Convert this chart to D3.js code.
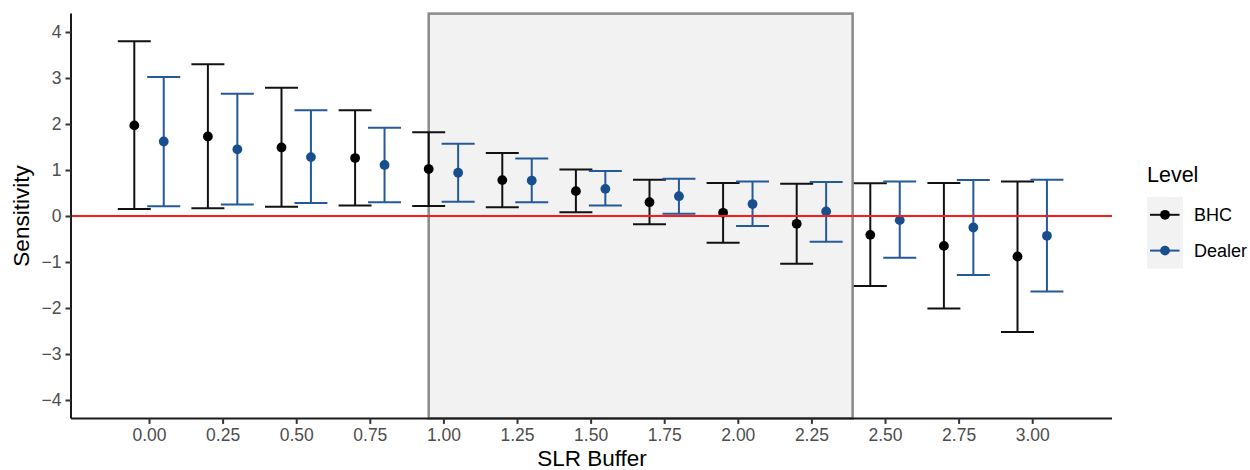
<!DOCTYPE html>
<html>
<head>
<meta charset="utf-8">
<script src="https://cdn.jsdelivr.net/npm/d3@7"></script>
<style>
  html, body { margin: 0; padding: 0; background: #fff; }
  svg { display: block; font-family: "Liberation Sans", Arial, sans-serif; }
</style>
</head>
<body>
<svg id="chart" width="1250" height="470"></svg>
<script>
// ---- data ----
const buffers = [0.00, 0.25, 0.50, 0.75, 1.00, 1.25, 1.50, 1.75, 2.00, 2.25, 2.50, 2.75, 3.00];
const levels = ["BHC", "Dealer"];
const bhcEst   = [1.97, 1.73, 1.49, 1.26, 1.02, 0.78, 0.54, 0.30, 0.07, -0.17, -0.41, -0.65, -0.88];
const bhcLow   = [0.15, 0.17, 0.20, 0.23, 0.22, 0.19, 0.08, -0.18, -0.58, -1.04, -1.52, -2.01, -2.52];
const bhcHigh  = [3.80, 3.30, 2.79, 2.30, 1.82, 1.37, 1.01, 0.79, 0.72, 0.70, 0.71, 0.72, 0.75];
const dlrEst   = [1.62, 1.45, 1.28, 1.11, 0.94, 0.77, 0.59, 0.43, 0.26, 0.10, -0.09, -0.25, -0.43];
const dlrLow   = [0.21, 0.25, 0.28, 0.30, 0.31, 0.30, 0.23, 0.05, -0.22, -0.56, -0.91, -1.28, -1.64];
const dlrHigh  = [3.02, 2.66, 2.30, 1.92, 1.57, 1.25, 0.98, 0.81, 0.75, 0.74, 0.75, 0.78, 0.79];
const yTicks = [-4, -3, -2, -1, 0, 1, 2, 3, 4];
const shadeRange = [0.95, 2.39];
const dodge = [-0.05, 0.05];
const capWidth = 0.112;

const pointColors = { BHC: "#000000", Dealer: "#174f8c" };
const lineColors = { BHC: "#111111", Dealer: "#24599a" };

const rows = [];
buffers.forEach((b, i) => {
  rows.push({ level: "BHC", x: b + dodge[0], est: bhcEst[i], lo: bhcLow[i], hi: bhcHigh[i] });
  rows.push({ level: "Dealer", x: b + dodge[1], est: dlrEst[i], lo: dlrLow[i], hi: dlrHigh[i] });
});

// ---- layout ----
const svg = d3.select("#chart");
const pLeft = 71, pRight = 1112, pTop = 13.6, pBottom = 418.4;
const x = d3.scaleLinear().domain([-0.265, 3.271]).range([pLeft, pRight]);
const y = d3.scaleLinear().domain([-4.4, 4.4]).range([pBottom, pTop]);

// shaded region
svg.append("rect")
  .attr("x", x(shadeRange[0])).attr("y", pTop)
  .attr("width", x(shadeRange[1]) - x(shadeRange[0]))
  .attr("height", pBottom - pTop)
  .attr("fill", "#f2f2f2")
  .attr("stroke", "#8a8a8a")
  .attr("stroke-width", 2.5);

// error bars
const g = svg.append("g");
rows.forEach(d => {
  const lineC = lineColors[d.level];
  g.append("line").attr("x1", x(d.x)).attr("x2", x(d.x))
    .attr("y1", y(d.lo)).attr("y2", y(d.hi))
    .attr("stroke", lineC).attr("stroke-width", 2);
  [d.lo, d.hi].forEach(v => {
    g.append("line")
      .attr("x1", x(d.x - capWidth / 2)).attr("x2", x(d.x + capWidth / 2))
      .attr("y1", y(v)).attr("y2", y(v))
      .attr("stroke", lineC).attr("stroke-width", 2);
  });
  g.append("circle").attr("cx", x(d.x)).attr("cy", y(d.est)).attr("r", 4.9).attr("fill", pointColors[d.level]);
});

// zero line
svg.append("line")
  .attr("x1", pLeft).attr("x2", pRight)
  .attr("y1", y(0)).attr("y2", y(0))
  .attr("stroke", "#ff1a1a").attr("stroke-width", 2);

// axes
const xAxis = d3.axisBottom(x).tickValues(buffers).tickFormat(d3.format(".2f")).tickSize(5.5).tickPadding(5);
const yAxis = d3.axisLeft(y).tickValues(yTicks).tickFormat(d => d < 0 ? "\u2212" + Math.abs(d) : String(d)).tickSize(5.5).tickPadding(4);

const gx = svg.append("g").attr("transform", `translate(0,${pBottom})`).call(xAxis);
const gy = svg.append("g").attr("transform", `translate(${pLeft},0)`).call(yAxis);
[gx, gy].forEach(a => {
  a.select(".domain").attr("stroke", "#1a1a1a").attr("stroke-width", 2);
  a.selectAll(".tick line").attr("stroke", "#333").attr("stroke-width", 2);
  a.selectAll(".tick text").attr("fill", "#4d4d4d").style("font-size", "17.5px")
    .style("font-family", "'Liberation Sans', Arial, sans-serif");
});
gx.select(".domain").attr("d", `M${pLeft},0H${pRight}`);
gy.select(".domain").attr("d", `M0,${pTop}V${pBottom}`);

// axis titles
svg.append("text").attr("x", 592).attr("y", 466)
  .attr("text-anchor", "middle").style("font-size", "22.5px").attr("fill", "#000")
  .text("SLR Buffer");
svg.append("text").attr("transform", `translate(29,${y(0)}) rotate(-90)`)
  .attr("text-anchor", "middle").style("font-size", "22.5px").attr("fill", "#000")
  .text("Sensitivity");

// legend
const lg = svg.append("g");
lg.append("text").attr("x", 1147).attr("y", 182).style("font-size", "21.5px").attr("fill", "#000").text("Level");
lg.append("rect").attr("x", 1147).attr("y", 197).attr("width", 36).attr("height", 71.5).attr("fill", "#f2f2f2");
levels.forEach((lv, i) => {
  const cy = 214.8 + i * 35.8;
  lg.append("line").attr("x1", 1150).attr("x2", 1179.5).attr("y1", cy).attr("y2", cy)
    .attr("stroke", lineColors[lv]).attr("stroke-width", 2);
  lg.append("circle").attr("cx", 1165).attr("cy", cy).attr("r", 4.9).attr("fill", pointColors[lv]);
  lg.append("text").attr("x", 1194).attr("y", cy + 6.5).style("font-size", "18px").attr("fill", "#000").text(lv);
});
</script>
</body>
</html>
